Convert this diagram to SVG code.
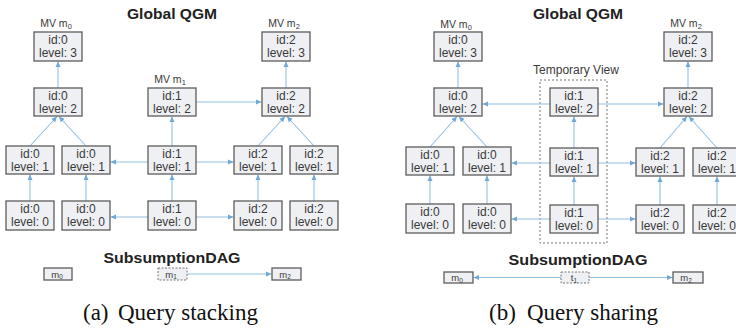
<svg xmlns="http://www.w3.org/2000/svg" width="736" height="328" viewBox="0 0 736 328">
<style>
.box{fill:#eff0f4;stroke:#5c5c5c;stroke-width:1.3}
.dbox{fill:#eff0f4;stroke:#777;stroke-width:1;stroke-dasharray:2,1.5}
.t{font-family:"Liberation Sans",Arial,sans-serif;font-size:12px;fill:#3a3a3a;text-anchor:middle}
.lbl{font-family:"Liberation Sans",Arial,sans-serif;font-size:10.5px;fill:#3a3a3a;text-anchor:middle}
.ttl{font-family:"Liberation Sans",Arial,sans-serif;font-size:15px;font-weight:bold;fill:#222;text-anchor:middle}
.dt{font-family:"Liberation Sans",Arial,sans-serif;font-size:9.5px;fill:#3a3a3a;text-anchor:middle}
.cap{font-family:"Liberation Serif","Times New Roman",serif;font-size:23px;fill:#111}
.e{stroke:#94c0e2;stroke-width:1.1;fill:none;marker-end:url(#ah)}
.tv{fill:none;stroke:#777;stroke-width:1;stroke-dasharray:2,2}
</style>
<defs>
<marker id="ah" markerUnits="userSpaceOnUse" markerWidth="6" markerHeight="6" refX="5.5" refY="3" orient="auto">
<path d="M0,0.5 L5.5,3 L0,5.5 z" fill="#6fa8d6"/>
</marker>
</defs>

<!-- Titles -->
<text class="ttl" x="172" y="19" textLength="90" lengthAdjust="spacingAndGlyphs">Global QGM</text>
<text class="ttl" x="578" y="19" textLength="90" lengthAdjust="spacingAndGlyphs">Global QGM</text>
<text class="ttl" x="172" y="263" textLength="137" lengthAdjust="spacingAndGlyphs">SubsumptionDAG</text>
<text class="ttl" x="578" y="265" textLength="139" lengthAdjust="spacingAndGlyphs">SubsumptionDAG</text>

<!-- MV labels -->
<text class="lbl" x="56" y="27">MV m<tspan font-size="7.5" dy="2">0</tspan></text>
<text class="lbl" x="170" y="83">MV m<tspan font-size="7.5" dy="2">1</tspan></text>
<text class="lbl" x="284" y="27">MV m<tspan font-size="7.5" dy="2">2</tspan></text>
<text class="lbl" x="456" y="28">MV m<tspan font-size="7.5" dy="2">0</tspan></text>
<text class="lbl" x="686" y="27">MV m<tspan font-size="7.5" dy="2">2</tspan></text>
<text class="t" x="576" y="74">Temporary View</text>
<rect class="tv" x="540" y="80" width="67" height="163"/>

<!-- Connectors -->
<g id="connectors">
<!-- left panel -->
<line class="e" x1="58" y1="88" x2="58" y2="61.5"/>
<line class="e" x1="30" y1="146" x2="57" y2="116.5"/>
<line class="e" x1="86" y1="146" x2="59" y2="116.5"/>
<line class="e" x1="30" y1="201" x2="30" y2="174.5"/>
<line class="e" x1="86" y1="201" x2="86" y2="174.5"/>
<line class="e" x1="172" y1="201" x2="172" y2="174.5"/>
<line class="e" x1="172" y1="146" x2="172" y2="116.5"/>
<line class="e" x1="196" y1="102" x2="261.5" y2="102"/>
<line class="e" x1="148" y1="162" x2="110.5" y2="162"/>
<line class="e" x1="196" y1="162" x2="233.5" y2="162"/>
<line class="e" x1="148" y1="217" x2="110.5" y2="217"/>
<line class="e" x1="196" y1="217" x2="233.5" y2="217"/>
<line class="e" x1="258" y1="146" x2="285" y2="116.5"/>
<line class="e" x1="314" y1="146" x2="287" y2="116.5"/>
<line class="e" x1="258" y1="201" x2="258" y2="174.5"/>
<line class="e" x1="314" y1="201" x2="314" y2="174.5"/>
<line class="e" x1="286" y1="88" x2="286" y2="61.5"/>
<!-- right panel -->
<line class="e" x1="458" y1="88" x2="458" y2="61.5"/>
<line class="e" x1="430" y1="147" x2="457" y2="116.5"/>
<line class="e" x1="487" y1="147" x2="459" y2="116.5"/>
<line class="e" x1="430" y1="204" x2="430" y2="175.5"/>
<line class="e" x1="487" y1="204" x2="487" y2="175.5"/>
<line class="e" x1="574" y1="205" x2="574" y2="176.5"/>
<line class="e" x1="574" y1="148" x2="574" y2="116.5"/>
<line class="e" x1="550" y1="104" x2="482.5" y2="104"/>
<line class="e" x1="598" y1="104" x2="663.5" y2="104"/>
<line class="e" x1="550" y1="163" x2="511.5" y2="163"/>
<line class="e" x1="598" y1="163" x2="635.5" y2="163"/>
<line class="e" x1="550" y1="219" x2="511.5" y2="219"/>
<line class="e" x1="598" y1="219" x2="635.5" y2="219"/>
<line class="e" x1="660" y1="148" x2="687" y2="116.5"/>
<line class="e" x1="717" y1="148" x2="689" y2="116.5"/>
<line class="e" x1="660" y1="205" x2="660" y2="176.5"/>
<line class="e" x1="717" y1="205" x2="717" y2="176.5"/>
<line class="e" x1="688" y1="88" x2="688" y2="61.5"/>
<!-- DAG -->
<line class="e" x1="187" y1="274" x2="271.5" y2="274"/>
<line class="e" x1="561" y1="277.5" x2="473.5" y2="277.5"/>
<line class="e" x1="589" y1="277.5" x2="672.5" y2="277.5"/>
</g>

<!-- Left panel nodes -->
<g id="a_id0_l3"><rect class="box" x="34" y="32" width="48" height="29"/><text class="t" x="58" y="43.5">id:0</text><text class="t" x="58" y="57">level: 3</text></g>
<g id="a_id0_l2"><rect class="box" x="34" y="88" width="48" height="28"/><text class="t" x="58" y="99.5">id:0</text><text class="t" x="58" y="113">level: 2</text></g>
<g id="a_id1_l2"><rect class="box" x="148" y="88" width="48" height="28"/><text class="t" x="172" y="99.5">id:1</text><text class="t" x="172" y="113">level: 2</text></g>
<g id="a_id2_l2"><rect class="box" x="262" y="88" width="48" height="28"/><text class="t" x="286" y="99.5">id:2</text><text class="t" x="286" y="113">level: 2</text></g>
<g id="a_id2_l3"><rect class="box" x="262" y="32" width="48" height="29"/><text class="t" x="286" y="43.5">id:2</text><text class="t" x="286" y="57">level: 3</text></g>
<g id="a_id0_l1a"><rect class="box" x="6" y="146" width="48" height="28"/><text class="t" x="30" y="157.5">id:0</text><text class="t" x="30" y="171">level: 1</text></g>
<g id="a_id0_l1b"><rect class="box" x="62" y="146" width="48" height="28"/><text class="t" x="86" y="157.5">id:0</text><text class="t" x="86" y="171">level: 1</text></g>
<g id="a_id1_l1"><rect class="box" x="148" y="146" width="48" height="28"/><text class="t" x="172" y="157.5">id:1</text><text class="t" x="172" y="171">level: 1</text></g>
<g id="a_id2_l1a"><rect class="box" x="234" y="146" width="48" height="28"/><text class="t" x="258" y="157.5">id:2</text><text class="t" x="258" y="171">level: 1</text></g>
<g id="a_id2_l1b"><rect class="box" x="290" y="146" width="48" height="28"/><text class="t" x="314" y="157.5">id:2</text><text class="t" x="314" y="171">level: 1</text></g>
<g id="a_id0_l0a"><rect class="box" x="6" y="201" width="48" height="29"/><text class="t" x="30" y="212.5">id:0</text><text class="t" x="30" y="226">level: 0</text></g>
<g id="a_id0_l0b"><rect class="box" x="62" y="201" width="48" height="29"/><text class="t" x="86" y="212.5">id:0</text><text class="t" x="86" y="226">level: 0</text></g>
<g id="a_id1_l0"><rect class="box" x="148" y="201" width="48" height="29"/><text class="t" x="172" y="212.5">id:1</text><text class="t" x="172" y="226">level: 0</text></g>
<g id="a_id2_l0a"><rect class="box" x="234" y="201" width="48" height="29"/><text class="t" x="258" y="212.5">id:2</text><text class="t" x="258" y="226">level: 0</text></g>
<g id="a_id2_l0b"><rect class="box" x="290" y="201" width="48" height="29"/><text class="t" x="314" y="212.5">id:2</text><text class="t" x="314" y="226">level: 0</text></g>

<!-- Right panel nodes -->
<g id="b_id0_l3"><rect class="box" x="434" y="32" width="48" height="29"/><text class="t" x="458" y="43.5">id:0</text><text class="t" x="458" y="57">level: 3</text></g>
<g id="b_id0_l2"><rect class="box" x="434" y="88" width="48" height="28"/><text class="t" x="458" y="99.5">id:0</text><text class="t" x="458" y="113">level: 2</text></g>
<g id="b_id1_l2"><rect class="box" x="550" y="88" width="48" height="28"/><text class="t" x="574" y="99.5">id:1</text><text class="t" x="574" y="113">level: 2</text></g>
<g id="b_id2_l2"><rect class="box" x="664" y="88" width="48" height="28"/><text class="t" x="688" y="99.5">id:2</text><text class="t" x="688" y="113">level: 2</text></g>
<g id="b_id2_l3"><rect class="box" x="664" y="32" width="48" height="29"/><text class="t" x="688" y="43.5">id:2</text><text class="t" x="688" y="57">level: 3</text></g>
<g id="b_id0_l1a"><rect class="box" x="406" y="147" width="48" height="28"/><text class="t" x="430" y="158.5">id:0</text><text class="t" x="430" y="172">level: 1</text></g>
<g id="b_id0_l1b"><rect class="box" x="463" y="147" width="48" height="28"/><text class="t" x="487" y="158.5">id:0</text><text class="t" x="487" y="172">level: 1</text></g>
<g id="b_id1_l1"><rect class="box" x="550" y="148" width="48" height="28"/><text class="t" x="574" y="159.5">id:1</text><text class="t" x="574" y="173">level: 1</text></g>
<g id="b_id2_l1a"><rect class="box" x="636" y="148" width="48" height="28"/><text class="t" x="660" y="159.5">id:2</text><text class="t" x="660" y="173">level: 1</text></g>
<g id="b_id2_l1b"><rect class="box" x="693" y="148" width="48" height="28"/><text class="t" x="717" y="159.5">id:2</text><text class="t" x="717" y="173">level: 1</text></g>
<g id="b_id0_l0a"><rect class="box" x="406" y="204" width="48" height="29"/><text class="t" x="430" y="215.5">id:0</text><text class="t" x="430" y="229">level: 0</text></g>
<g id="b_id0_l0b"><rect class="box" x="463" y="204" width="48" height="29"/><text class="t" x="487" y="215.5">id:0</text><text class="t" x="487" y="229">level: 0</text></g>
<g id="b_id1_l0"><rect class="box" x="550" y="205" width="48" height="28"/><text class="t" x="574" y="216.5">id:1</text><text class="t" x="574" y="230">level: 0</text></g>
<g id="b_id2_l0a"><rect class="box" x="636" y="205" width="48" height="28"/><text class="t" x="660" y="216.5">id:2</text><text class="t" x="660" y="230">level: 0</text></g>
<g id="b_id2_l0b"><rect class="box" x="693" y="205" width="48" height="28"/><text class="t" x="717" y="216.5">id:2</text><text class="t" x="717" y="230">level: 0</text></g>

<!-- DAG nodes -->
<g id="dag_a_m0"><rect class="box" x="44" y="268" width="28" height="12"/><text class="dt" x="57" y="277.5">m<tspan font-size="6.5" dy="1.5">0</tspan></text></g>
<g id="dag_a_m1"><rect class="dbox" x="158" y="268" width="29" height="12"/><text class="dt" x="171" y="277.5">m<tspan font-size="6.5" dy="1.5">1</tspan></text></g>
<g id="dag_a_m2"><rect class="box" x="272" y="268" width="29" height="12"/><text class="dt" x="285" y="277.5">m<tspan font-size="6.5" dy="1.5">2</tspan></text></g>
<g id="dag_b_m0"><rect class="box" x="444" y="272" width="29" height="11"/><text class="dt" x="457" y="281">m<tspan font-size="6.5" dy="1.5">0</tspan></text></g>
<g id="dag_b_t1"><rect class="dbox" x="561" y="272" width="28" height="11"/><text class="dt" x="574" y="281">t<tspan font-size="6.5" dy="1.5">1</tspan></text></g>
<g id="dag_b_m2"><rect class="box" x="673" y="272" width="30" height="11"/><text class="dt" x="686" y="281">m<tspan font-size="6.5" dy="1.5">2</tspan></text></g>

<!-- Captions -->
<text class="cap" x="83" y="320">(a)</text>
<text class="cap" x="118" y="320">Query stacking</text>
<text class="cap" x="489" y="320">(b)</text>
<text class="cap" x="527" y="320">Query sharing</text>
</svg>
